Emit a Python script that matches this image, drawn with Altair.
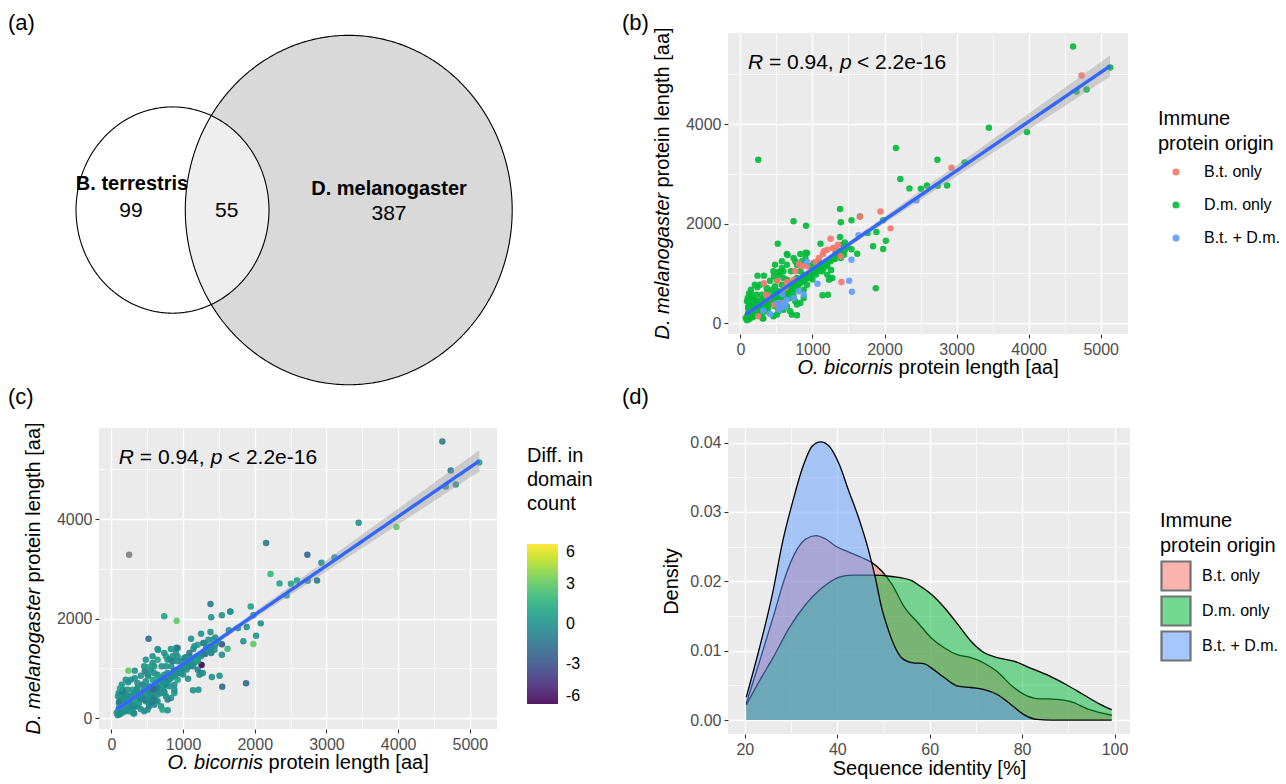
import altair as alt
import numpy as np
import pandas as pd

FONT = "Liberation Sans"
TICK_GREY = "#4d4d4d"
PANEL_BG = "#ebebeb"

# ---------------- (a) Venn diagram ----------------
venn_sets = ["B. terrestris", "D. melanogaster"]
venn_set_size = [154, 442]            # 99 + 55 and 387 + 55
venn_centre_x = [0.0, 12.79]
venn_centre_y = [0.0, 0.0]
venn_text = ["B. terrestris", "99", "55", "D. melanogaster", "387"]
venn_text_x = [-2.94, -3.01, 3.93, 15.71, 15.71]
venn_text_y = [1.77, -0.07, -0.07, 1.43, -0.29]
venn_text_bold = [True, False, False, True, False]

# ---------------- (b)/(c) protein lengths ----------------
# D.m. only
dm_x = [4617, 5131, 4664, 4804, 3449, 3977, 248, 2159, 2734, 3112, 2220, 2346, 2505, 2589, 2738, 2869,
        1383, 738, 911, 1393, 1542, 1659, 1981, 1766, 1888, 1841, 2019, 1981, 1621, 1542, 519, 1112,
        1383, 654, 907, 1879, 1215, 1140, 785, 308, 238, 327, 103, 1259, 1250, 560,
        75, 131, 107, 178, 107, 93, 103, 131, 201, 248, 224, 178, 318, 308, 364, 388, 341, 411, 435,
        458, 364, 294, 234, 271, 364, 435, 481, 528, 575, 505, 411, 467, 551, 598, 645, 692, 645, 715,
        738, 785, 808, 855, 879, 832, 785, 762, 855, 902, 925, 832, 738, 645, 575, 598, 701, 972, 1019,
        1089, 1159, 1136, 1112, 1206, 1252, 1299, 1322, 1369, 1416, 1449, 1486, 1439, 1393, 879, 832,
        785, 762, 738, 879, 925, 972, 995, 1042, 1206, 1276, 1229, 458, 528, 645, 575, 481, 224, 154,
        145, 201, 458, 505, 528, 598, 645, 692, 715, 481, 551, 598, 645, 692, 364, 318,
        90, 120, 150, 95, 130, 160, 180, 210, 250, 280, 140, 110, 170, 200, 260, 300, 330, 270, 230,
        190, 150, 120, 350, 380, 400, 420, 450, 480, 500, 520, 560, 600, 620, 660, 700, 720, 760, 800,
        840, 880, 920, 960, 1000, 1050, 1100, 1150, 1200,
        100, 120, 140, 160, 180, 200, 220, 240, 260, 280, 300, 320, 340, 360, 380, 400, 420, 440, 460,
        480, 500, 530, 550, 580, 610, 640, 670, 700, 730, 760, 790, 820, 850, 880, 910, 940, 970, 1000,
        1030, 1060, 1090, 1120, 1160, 1190, 1230, 1270, 1310, 1350, 1400, 1450, 150, 230, 330, 430,
        530, 630, 730, 830, 930, 1030]
dm_y = [5559, 5137, 4656, 4696, 3926, 3839, 3284, 3518, 3284, 3231, 2896, 2709, 2702, 2769, 2763, 2769,
        2294, 2047, 1960, 2027, 2067, 2147, 2067, 1813, 1833, 1545, 1659, 1492, 1398, 1485, 1599, 1599,
        1732, 1371, 1418, 702, 575, 562, 161, 100, 957, 957, 455, 1070, 903, 1037,
        107, 140, 207, 241, 308, 441, 508, 375, 308, 341, 441, 508, 94, 207, 241, 308, 408, 408, 508,
        575, 609, 575, 722, 776, 709, 676, 742, 642, 776, 876, 856, 943, 977, 910, 876, 809, 709, 676,
        776, 910, 843, 856, 977, 1043, 1177, 1244, 1244, 1311, 1411, 1391, 1311, 1177, 1110, 1043, 1043, 1144, 1211,
        1244, 1177, 1043, 1110, 1144, 1244, 1311, 1411, 1445, 1579, 1625, 1545, 1378, 1311, 508, 408,
        375, 441, 542, 676, 776, 910, 1010, 1077, 977, 910, 876, 1043, 1030, 1391, 1244, 1177, 575, 575,
        676, 776, 140, 174, 241, 274, 341, 241, 174, 341, 408, 508, 575, 508, 475, 508,
        60, 80, 110, 150, 200, 170, 130, 160, 220, 190, 260, 330, 390, 280, 300, 350, 420, 460, 380,
        470, 540, 600, 350, 450, 380, 520, 470, 560, 620, 500, 560, 620, 700, 640, 720, 600, 680, 760,
        820, 860, 900, 940, 880, 980, 1050, 1100, 1180,
        100, 130, 150, 140, 190, 210, 200, 250, 270, 260, 310, 300, 350, 330, 390, 420, 400, 450, 440,
        500, 490, 540, 520, 600, 590, 650, 680, 690, 750, 740, 810, 800, 870, 850, 930, 960, 950, 1020,
        1050, 1040, 1120, 1100, 1190, 1170, 1260, 1300, 1290, 1380, 1420, 1470, 190, 230, 330, 420,
        520, 620, 720, 830, 920, 1020]
dm_diff = [-1, 1, 0, 0, 0, 3, None, -1, -2, 0, 2, 1, 1, 1, 0, -1,
           -1, 1, 3, 0, 0, 0, 0, 0, 0, 0, 0, 3, 2, -3, -2, 0,
           0, 0, 0, -2, 0, 0, 0, 0, 3, 0, 0, -6, -3, 5,
           0, 0, -1, 0, 0, 1, 0, 0, -1, 0, 0, 1, 0, 0, -1, 0, 0, 0, -1,
           0, 0, 1, 0, 0, 0, -1, 0, 0, 1, 0, 0, -1, 0, 0, 0, -1, 0, 0,
           1, 0, 0, -1, 0, 0, 0, 1, 0, 0, -1, 0, 0, 1, 0, 0, 0, 0, -1,
           0, 0, 0, 1, 0, 0, -1, 0, 0, 1, 0, 0, 0, -1, 0, 0,
           -1, 0, 0, 0, 1, 0, 0, 0, -1, 0, 0, 0, 1, 0, 0, 0, 0, -1,
           0, 0, 0, 0, -1, 0, 0, 0, 1, 0, 0, 0, -1, 0, 0, 0,
           0, 0, -1, 0, 0, 0, 1, 0, 0, 0, 0, -1, 0, 0, 0, 0, 1, 0, 0,
           0, -1, 1, 0, 0, 0, 0, -1, 0, 0, 0, 0, -1, 0, 0, 0, 0, -1, 0,
           0, 0, -1, 0, 0, 0, -1, 0, 0,
           0, 0, -1, 0, 0, 0, 1, 0, 0, -1, 0, 0, 0, 1, 0, 0, -1, 0, 0,
           0, 1, 0, 0, -1, 0, 0, 0, 1, 0, 0, -1, 0, 0, 0, 0, 1, 0, 0,
           0, -1, 0, 0, 0, 1, 0, 0, -1, 0, 0, 0, 0, 0, 1, 0,
           0, -1, 0, 0, 0, 0]
# B.t. only
bt_x = [327, 355, 514, 645, 762, 813, 855, 1042, 1145, 1206, 1252, 1285, 1355, 1393, 1402, 575, 467,
        388, 248, 1659, 1944, 2084, 2930, 4734, 622, 738, 925, 1089, 1159, 1299]
bt_y = [803, 575, 856, 829, 1043, 1191, 1144, 1231, 1391, 1478, 1699, 1512, 1579, 1344, 829, 408, 375,
        508, 140, 2140, 2247, 1906, 3124, 4977, 709, 876, 1144, 1311, 1445, 1512]
bt_diff = [0, 0, 0, 1, 0, 0, -1, 0, 0, 1, 0, -3, 0, 0, 0, 0, -1,
           0, 0, 0, 1, 0, 0, -1, 0, 0, 0, -1, 0, 0]
# B.t. + D.m.
both_x = [2444, 1640, 1542, 1509, 1547, 1070, 925, 411, 551, 622, 514, 598, 645, 738, 808, 528, 575,
          318, 879, 583]
both_y = [2468, 1766, 1278, 856, 635, 796, 1237, 187, 308, 341, 408, 408, 475, 508, 642, 274, 321,
          254, 575, 589]
both_diff = [1, 0, 0, 0, -2, 0, 0, 0, -1, 0, 0, -1, 0, 0, 0, 0, -1, 0, 0, -2]

origins = ["B.t. only", "D.m. only", "B.t. + D.m."]
ann_parts = ["R", "= 0.94,", "p", "< 2.2e-16"]
ann_x = 104
ann_y = 5100
panel_letters = ["(a)", "(b)", "(c)", "(d)"]

# ---------------- (d) sequence identity densities ----------------
dens_bt_x = [20.3, 23.2, 26.1, 28.9, 31.1, 33.2, 35.4, 37.5, 39.6, 42.5, 45.4, 47.5, 49.6, 51.8, 54.6,
             57.5, 60.4, 63.2, 66.1, 68.9, 71.8, 74.6, 77.5, 80.4, 83.2, 87.5, 90.4, 94.6, 99.4]
dens_bt_y = [0.0024, 0.0085, 0.0148, 0.0210, 0.0244, 0.0261, 0.0266, 0.0261, 0.0251, 0.0242, 0.0234,
             0.0227, 0.0215, 0.0196, 0.0162, 0.0140, 0.0118, 0.0104, 0.0094, 0.0090, 0.0082, 0.0070,
             0.0051, 0.0037, 0.0031, 0.0030, 0.0027, 0.0015, 0.0007]
dens_dm_x = [20.3, 23.2, 26.1, 29.6, 33.2, 36.8, 40.4, 43.2, 47.5, 51.8, 56.1, 57.5, 60.4, 63.2, 66.1,
             68.9, 71.8, 74.6, 78.2, 81.8, 86.1, 89.6, 93.2, 96.8, 99.4]
dens_dm_y = [0.0022, 0.0057, 0.0090, 0.0133, 0.0167, 0.0191, 0.0206, 0.0209, 0.0209, 0.0207, 0.0201,
             0.0195, 0.0181, 0.0162, 0.0138, 0.0114, 0.0097, 0.0090, 0.0085, 0.0075, 0.0063, 0.0051,
             0.0037, 0.0023, 0.0015]
dens_both_x = [20.3, 23.2, 26.1, 28.2, 30.4, 32.5, 34.6, 36.4, 38.2, 40.4, 42.5, 44.6, 46.8, 48.2, 49.6,
               51.1, 52.5, 53.9, 56.1, 58.9, 60.4, 63.2, 66.1, 68.9, 71.8, 74.6, 77.5, 80.4, 83.2, 86.1,
               90.0, 95.0, 99.4]
dens_both_y = [0.0033, 0.0105, 0.0186, 0.0258, 0.0316, 0.0364, 0.0395, 0.0401, 0.0395, 0.0369, 0.0330,
               0.0292, 0.0244, 0.0206, 0.0162, 0.0129, 0.0105, 0.0090, 0.0083, 0.0081, 0.0075, 0.0061,
               0.0049, 0.0047, 0.0044, 0.0037, 0.0023, 0.0008, 0.0001, 0.0, 0.0, 0.0, 0.0]

# ================= layout constants =================
W_A, H_A = 460, 351
W_B, H_B = 400, 301
W_C, H_C = 398, 301
W_D, H_D = 402, 306
ORIGIN_COLORS = ["#F8766D", "#00BA38", "#619CFF"]
HYPHEN_LABEL = "datum.value < 0 ? '-' + abs(datum.value) : '' + datum.value"


def txt(s, **kw):
    return alt.Chart(pd.DataFrame({"t": [s]})).mark_text(font=FONT, color="black", **kw).encode(
        text="t:N")


def letter(s, dx, up):
    return txt(s, x=dx, y=-up, align="left", baseline="alphabetic", fontSize=22)


def minor_axis(values, major, **kw):
    return alt.Axis(values=values, labelExpr=f"({major}) ? datum.label : ''",
                    gridWidth={"condition": {"test": major, "value": 1.4}, "value": 0.7},
                    tickOpacity={"condition": {"test": major, "value": 1}, "value": 0},
                    labelOverlap=False, labelFlush=False, **kw)


# ---------------- (a) ----------------
circ_rows = []
for name, n, cx, cy in zip(venn_sets, venn_set_size, venn_centre_x, venn_centre_y):
    r = np.sqrt(n / np.pi)
    for t in np.linspace(np.pi, 0.0, 241):
        circ_rows.append({"set": name, "cx": cx + r * np.cos(t),
                          "top": cy + r * np.sin(t), "bot": cy - r * np.sin(t)})
circ_df = pd.DataFrame(circ_rows)
vx = alt.Scale(domain=[-5.334, -5.334 + W_A / 13.78], nice=False, zero=False)
vy = alt.Scale(domain=[12.02 - H_A / 14.73, 12.02], nice=False, zero=False)
venn_enc = dict(x=alt.X("cx:Q", scale=vx, axis=None), y=alt.Y("top:Q", scale=vy, axis=None), y2="bot:Q")

big_fill = alt.Chart(circ_df).transform_filter(alt.datum.set == venn_sets[1]).mark_area(
    color="#d9d9d9").encode(**venn_enc)
small_fill = alt.Chart(circ_df).transform_filter(alt.datum.set == venn_sets[0]).mark_area(
    color="#ffffff", opacity=0.55).encode(**venn_enc)
outline = alt.Chart(circ_df).mark_area(fill="transparent", stroke="black", strokeWidth=1.1).encode(
    detail="set:N", **venn_enc)
vt_df = pd.DataFrame({"t": venn_text, "x": venn_text_x, "y": venn_text_y, "bold": venn_text_bold})
vt_enc = dict(x=alt.X("x:Q", scale=vx, axis=None), y=alt.Y("y:Q", scale=vy, axis=None), text="t:N")
venn_bold = alt.Chart(vt_df).transform_filter("datum.bold").mark_text(
    font=FONT, fontSize=20, fontWeight="bold", color="black").encode(**vt_enc)
venn_norm = alt.Chart(vt_df).transform_filter("!datum.bold").mark_text(
    font=FONT, fontSize=21, color="black").encode(**vt_enc)
panel_a = alt.layer(big_fill, small_fill, outline, venn_bold, venn_norm,
                    letter(panel_letters[0], -91, 3.5)).properties(width=W_A, height=H_A)

# ---------------- (b) & (c) ----------------
pts = pd.concat([
    pd.DataFrame({"x": dm_x, "y": dm_y, "diff": dm_diff, "origin": origins[1]}),
    pd.DataFrame({"x": bt_x, "y": bt_y, "diff": bt_diff, "origin": origins[0]}),
    pd.DataFrame({"x": both_x, "y": both_y, "diff": both_diff, "origin": origins[2]}),
], ignore_index=True)
pts["diff"] = pd.to_numeric(pts["diff"])

X = pts["x"].to_numpy(float)
Y = pts["y"].to_numpy(float)
slope, icpt = np.polyfit(X, Y, 1)
grid = np.linspace(X.min(), X.max(), 80)
n = len(X)
res = Y - (icpt + slope * X)
s = np.sqrt((res ** 2).sum() / (n - 2))
sxx = ((X - X.mean()) ** 2).sum()
se = s * np.sqrt(1.0 / n + (grid - X.mean()) ** 2 / sxx)
fit = icpt + slope * grid
fit_df = pd.DataFrame({"x": grid, "fit": fit, "lo": fit - 1.97 * se, "hi": fit + 1.97 * se})

sx = alt.Scale(domain=[-172, 5379], nice=False, zero=False)
sy = alt.Scale(domain=[-215, 5829], nice=False, zero=False)
ax_x = minor_axis(list(range(0, 5001, 500)), "datum.value % 1000 === 0", title=None, format="d")
ax_y = minor_axis(list(range(0, 5001, 1000)), "datum.value % 2000 === 0", title=None, format="d")


def XE(f):
    return alt.X(f, type="quantitative", scale=sx, axis=ax_x)


def YE(f):
    return alt.Y(f, type="quantitative", scale=sy, axis=ax_y)


def scatter_panel(point_layers, W, H, let, dx, up):
    band = alt.Chart(fit_df).mark_area(color="#999999", opacity=0.4).encode(
        x=XE("x"), y=YE("lo"), y2="hi")
    line = alt.Chart(fit_df).mark_line(color="#3366FF", strokeWidth=3.4).encode(x=XE("x"), y=YE("fit"))
    ann_df = pd.DataFrame({"x": [ann_x], "y": [ann_y]})
    ann = []
    for part, off, ital in zip(ann_parts, [0, 21, 92, 109], [True, False, True, False]):
        kw = {"fontStyle": "italic"} if ital else {}
        ann.append(alt.Chart(ann_df).mark_text(font=FONT, fontSize=21, align="left",
                                               baseline="alphabetic", dx=off, color="black", **kw)
                   .encode(x=XE("x"), y=YE("y"), text=alt.value(part)))
    split = W / 2 - 35.0
    titles = [
        txt("O. bicornis", x=split, y=H + 40, align="right", baseline="alphabetic",
            fontStyle="italic", fontSize=20),
        txt("protein length [aa]", x=split + 5.6, y=H + 40, align="left", baseline="alphabetic",
            fontSize=20),
        txt("D. melanogaster", x=-59, y=H / 2 + 156, angle=270, align="left", baseline="alphabetic",
            fontStyle="italic", fontSize=20),
        txt("protein length [aa]", x=-59, y=H / 2 + 4, angle=270, align="left",
            baseline="alphabetic", fontSize=20),
        letter(let, dx, up),
    ]
    return alt.layer(*point_layers, band, line, *ann, *titles).properties(
        width=W, height=H, view=alt.ViewBackground(fill=PANEL_BG, strokeWidth=0))


pts_b = alt.Chart(pts).mark_circle(size=42, opacity=0.9).encode(
    x=XE("x"), y=YE("y"),
    color=alt.Color("origin:N", sort=origins,
                    scale=alt.Scale(domain=origins, range=ORIGIN_COLORS),
                    legend=alt.Legend(title=["Immune", "protein origin"], orient="none",
                                      legendX=430, legendY=76, titleFontSize=20,
                                      titleFontWeight="normal", titleLineHeight=25,
                                      titlePadding=10, labelFontSize=16, symbolType="circle",
                                      symbolSize=50, rowPadding=17, labelOffset=20,
                                      symbolOffset=10, padding=0, titleColor="black",
                                      labelColor="black", titleFont=FONT, labelFont=FONT)))
panel_b = scatter_panel([pts_b], W_B, H_B, panel_letters[1], -106, 3.5)

pts_c_na = alt.Chart(pts).transform_filter("!isValid(datum.diff)").mark_circle(
    size=42, opacity=0.9, color="#7f7f7f").encode(x=XE("x"), y=YE("y"))
pts_c = alt.Chart(pts).transform_filter("isValid(datum.diff)").mark_circle(
    size=42, opacity=0.9).encode(
    x=XE("x"), y=YE("y"),
    color=alt.Color("diff:Q", scale=alt.Scale(scheme="viridis", domain=[-6, 6]),
                    legend=alt.Legend(title=["Diff. in", "domain", "count"], orient="none",
                                      legendX=428, legendY=18, type="gradient",
                                      direction="vertical", gradientLength=160,
                                      gradientThickness=31, values=[-6, -3, 0, 3, 6],
                                      labelExpr=HYPHEN_LABEL,
                                      titleFontSize=20, titleFontWeight="normal",
                                      titleLineHeight=24, titlePadding=30, labelFontSize=16,
                                      labelOffset=8, gradientStrokeWidth=0, padding=0,
                                      titleColor="black", labelColor="black",
                                      titleFont=FONT, labelFont=FONT)))
panel_c = scatter_panel([pts_c_na, pts_c], W_C, H_C, panel_letters[2], -91, 24.5)

# ---------------- (d) ----------------
dens = pd.concat([
    pd.DataFrame({"x": dens_bt_x, "y": dens_bt_y, "g": origins[0]}),
    pd.DataFrame({"x": dens_dm_x, "y": dens_dm_y, "g": origins[1]}),
    pd.DataFrame({"x": dens_both_x, "y": dens_both_y, "g": origins[2]}),
], ignore_index=True)
dx_scale = alt.Scale(domain=[16.35, 103.35], nice=False, zero=False)
dy_scale = alt.Scale(domain=[-0.002, 0.0421], nice=False, zero=False)
d_ax_x = minor_axis(list(range(20, 101, 10)), "datum.value % 20 === 0",
                    title="Sequence identity [%]", titleX=W_D / 2, titleY=40,
                    titleBaseline="alphabetic")
d_ax_y = minor_axis([i / 200 for i in range(9)], "round(datum.value * 1000) % 10 === 0",
                    format=".2f", title="Density", titleX=-51, titleY=H_D / 2,
                    titleBaseline="alphabetic", titleAngle=270)


def DX():
    return alt.X("x:Q", scale=dx_scale, axis=d_ax_x)


def DY():
    return alt.Y("y:Q", scale=dy_scale, axis=d_ax_y)


d_legend = alt.Legend(title=["Immune", "protein origin"], orient="none", legendX=432, legendY=83,
                      titleFontSize=20, titleFontWeight="normal", titleLineHeight=25,
                      titlePadding=4, labelFontSize=16, symbolType="square", symbolSize=841,
                      symbolStrokeColor="black", symbolStrokeWidth=2.2, symbolOpacity=0.55,
                      rowPadding=-6, labelOffset=10, padding=0, titleColor="black",
                      labelColor="black", titleFont=FONT, labelFont=FONT)
d_layers = []
for i, gname in enumerate(origins):
    base = alt.Chart(dens).transform_filter(alt.datum.g == gname)
    d_layers.append(base.mark_area(fillOpacity=0.5, interpolate="monotone").encode(
        x=DX(), y=DY(), y2=alt.datum(0),
        color=alt.Color("g:N", sort=origins, scale=alt.Scale(domain=origins, range=ORIGIN_COLORS),
                        legend=d_legend)))
    d_layers.append(base.mark_line(color="black", strokeWidth=1.3, interpolate="monotone").encode(
        x=DX(), y=DY()))
panel_d = alt.layer(*d_layers, letter(panel_letters[3], -106, 24.5)).properties(
    width=W_D, height=H_D, view=alt.ViewBackground(fill=PANEL_BG, strokeWidth=0))

# ---------------- assemble ----------------
chart = alt.concat(panel_a, panel_b, panel_c, panel_d, columns=2, bounds="flush",
                   spacing={"row": 44, "column": 169}).resolve_scale(
    color="independent", x="independent", y="independent"
).resolve_legend(color="independent").properties(
    padding={"left": 8, "top": 11, "right": 2, "bottom": 4}
).configure_view(strokeWidth=0).configure_axis(
    labelFont=FONT, labelFontSize=16, labelColor=TICK_GREY, tickColor="#333333", tickSize=4,
    tickWidth=1.1, gridColor="white", domain=False, labelPadding=3, titleFont=FONT,
    titleFontSize=20, titleColor="black", titleFontWeight="normal"
).configure_legend(labelFont=FONT, titleFont=FONT)

chart.save("out.html", embed_options={"renderer": "svg", "actions": False})
